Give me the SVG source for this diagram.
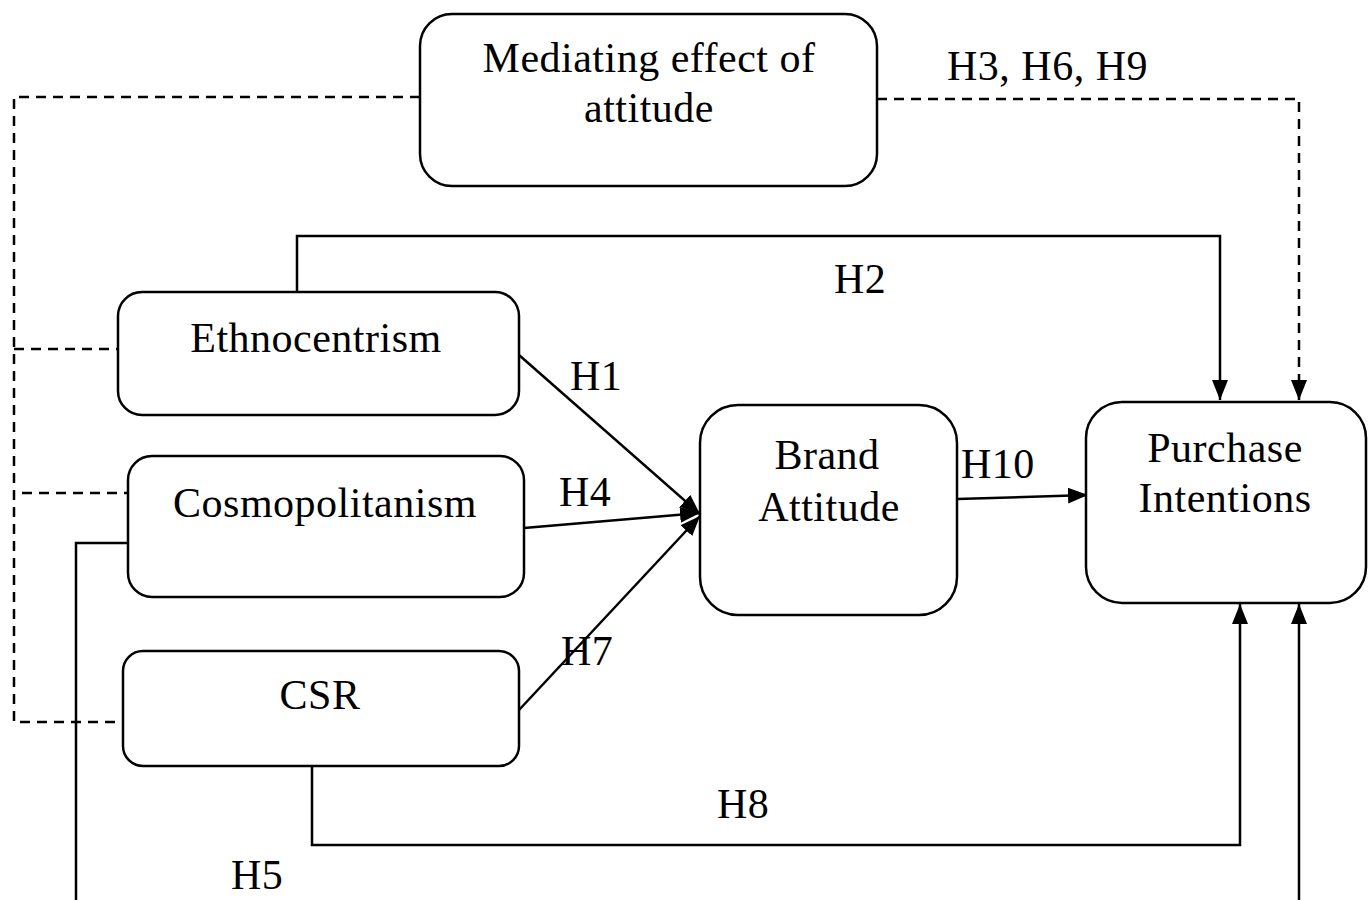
<svg xmlns="http://www.w3.org/2000/svg" width="1372" height="900" viewBox="0 0 1372 900">
<style>
.box{fill:#fff;stroke:#000;stroke-width:2.5}
.t{font-family:"Liberation Serif","Times New Roman",serif;font-size:42px;letter-spacing:0.5px;fill:#000;text-anchor:middle}
.l{font-family:"Liberation Serif","Times New Roman",serif;font-size:42px;letter-spacing:0.5px;fill:#000}
.c{fill:none;stroke:#000;stroke-width:2.5}
.d{fill:none;stroke:#000;stroke-width:2.5;stroke-dasharray:10,7}
</style>
<defs>
<marker id="a" viewBox="0 0 20 16" refX="20" refY="8" markerWidth="20" markerHeight="16" markerUnits="userSpaceOnUse" orient="auto">
<path d="M0,0 L20,8 L0,16 z" fill="#000"/>
</marker>
</defs>
<rect width="1372" height="900" fill="#fff"/>
<g id="connectors">
<polyline class="d" points="420,97 14,97 14,722 123,722"/>
<line class="d" x1="14" y1="349" x2="118" y2="349"/>
<line class="d" x1="22" y1="493" x2="128" y2="493"/>
<polyline class="d" points="877,99 1299,99 1299,400" marker-end="url(#a)"/>
<polyline class="c" points="297,292 297,236 1220,236 1220,400" marker-end="url(#a)"/>
<line class="c" x1="519" y1="355" x2="700" y2="514" marker-end="url(#a)"/>
<line class="c" x1="524" y1="528" x2="700" y2="513" marker-end="url(#a)"/>
<line class="c" x1="519" y1="710" x2="700" y2="516" marker-end="url(#a)"/>
<line class="c" x1="957" y1="499" x2="1088" y2="495" marker-end="url(#a)"/>
<polyline class="c" points="312,766 312,845 1240,845 1240,604" marker-end="url(#a)"/>
<polyline class="c" points="128,543 76,543 76,905"/>
<polyline class="c" points="1299,905 1299,604" marker-end="url(#a)"/>
<text class="l" x="947" y="80">H3, H6, H9</text>
<text class="l" x="834" y="293">H2</text>
<text class="l" x="570" y="390">H1</text>
<text class="l" x="559" y="506">H4</text>
<text class="l" x="561" y="665">H7</text>
<text class="l" x="961" y="478">H10</text>
<text class="l" x="717" y="818">H8</text>
<text class="l" x="231" y="889">H5</text>
</g>
<g id="mediating">
<rect class="box" x="420" y="14" width="457" height="172" rx="32"/>
<text class="t" x="649" y="72">Mediating effect of</text>
<text class="t" x="649" y="122">attitude</text>
</g>
<g id="ethnocentrism">
<rect class="box" x="118" y="292" width="401" height="123" rx="24"/>
<text class="t" x="316" y="352">Ethnocentrism</text>
</g>
<g id="cosmopolitanism">
<rect class="box" x="128" y="456" width="396" height="141" rx="24"/>
<text class="t" x="325" y="517">Cosmopolitanism</text>
</g>
<g id="csr">
<rect class="box" x="123" y="651" width="396" height="115" rx="20"/>
<text class="t" x="320" y="709">CSR</text>
</g>
<g id="brand">
<rect class="box" x="700" y="405" width="257" height="210" rx="38"/>
<text class="t" x="827" y="469">Brand</text>
<text class="t" x="829" y="521">Attitude</text>
</g>
<g id="purchase">
<rect class="box" x="1086" y="402" width="280" height="201" rx="36"/>
<text class="t" x="1225" y="462">Purchase</text>
<text class="t" x="1225" y="512">Intentions</text>
</g>
</svg>
